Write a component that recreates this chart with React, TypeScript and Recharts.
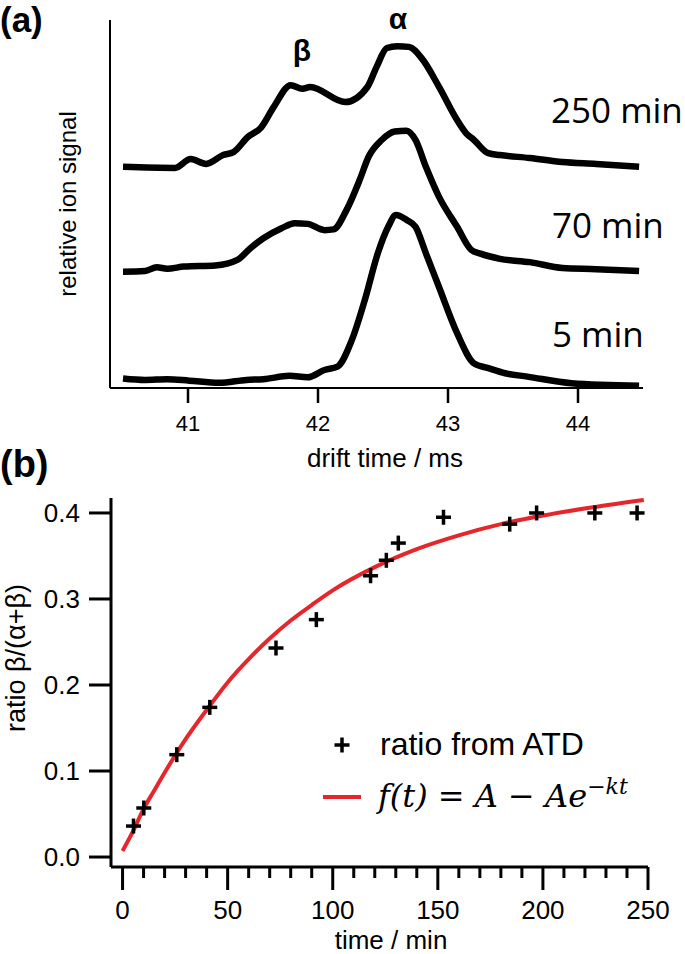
import { LineChart, ComposedChart, Line, Scatter, XAxis, YAxis } from "recharts"

// (a) arrival time distributions, stacked as drawn (relative ion signal, 0-100)
const drift250 = [40.5, 40.9, 41.02, 41.14, 41.27, 41.35, 41.46, 41.56, 41.66, 41.79, 41.88, 41.94, 42.21, 42.38, 42.45, 42.53, 42.61, 42.7, 42.8, 42.93, 43.07, 43.14, 43.2, 43.31, 43.4, 43.63, 43.88, 44.14, 44.47]
const signal250 = [60.1, 59.8, 62.2, 60.9, 63.3, 64.1, 68.2, 70.7, 76.4, 82.3, 81.3, 81.8, 77.7, 81.8, 87.2, 92.4, 92.9, 92.7, 89.5, 81.9, 72.8, 69.2, 67.4, 63.8, 63.3, 62.5, 61.4, 60.9, 60.1]

const drift70 = [40.5, 40.67, 40.76, 40.84, 40.97, 41.21, 41.38, 41.48, 41.58, 41.72, 41.82, 41.92, 42.05, 42.12, 42.22, 42.32, 42.39, 42.49, 42.59, 42.68, 42.75, 42.83, 42.93, 43.07, 43.18, 43.25, 43.4, 43.63, 43.88, 44.14, 44.47]
const signal70 = [31.6, 31.8, 32.8, 32.4, 33.0, 33.3, 34.8, 38.0, 40.7, 43.4, 44.8, 44.6, 42.9, 43.1, 48.4, 56.5, 62.9, 67.4, 69.7, 69.9, 67.4, 60.1, 52.0, 43.8, 37.5, 36.5, 35.1, 34.2, 32.6, 32.3, 31.8]

const drift5 = [40.5, 40.67, 40.84, 41.01, 41.24, 41.45, 41.58, 41.78, 41.92, 42.05, 42.15, 42.26, 42.36, 42.46, 42.54, 42.6, 42.68, 42.75, 42.83, 42.93, 43.07, 43.2, 43.31, 43.44, 43.61, 43.95, 44.47]
const signal5 = [2.6, 2.2, 2.4, 2.0, 1.4, 2.2, 2.4, 3.3, 2.9, 4.9, 5.8, 13.0, 23.9, 36.6, 43.8, 47.0, 45.7, 43.8, 36.6, 27.5, 14.9, 6.7, 5.4, 4.0, 3.1, 1.3, 0.6]

const driftTicks = [41, 42, 43, 44]

// (b) ratio beta/(alpha+beta) vs time
const times = [5.2, 10.1, 25.8, 41.5, 73, 92.2, 118, 125.5, 131.2, 152.7, 184.2, 197, 224.7, 244.8]
const ratios = [0.036, 0.057, 0.119, 0.174, 0.243, 0.276, 0.327, 0.345, 0.365, 0.395, 0.387, 0.4, 0.4, 0.4]

// fitted curve
const fitTimes = [0, 5, 10, 15, 20, 25, 30, 40, 50, 60, 70, 80, 90, 100, 120, 140, 160, 180, 200, 225, 248]
const fitValues = [0.007, 0.03, 0.056, 0.077, 0.098, 0.118, 0.137, 0.171, 0.203, 0.23, 0.254, 0.275, 0.293, 0.31, 0.337, 0.358, 0.374, 0.387, 0.397, 0.407, 0.415]

const timeTicks = [0, 10, 20, 30, 40, 50, 60, 70, 80, 90, 100, 110, 120, 130, 140, 150, 160, 170, 180, 190, 200, 210, 220, 230, 240, 250]
const ratioTicks = [0, 0.1, 0.2, 0.3, 0.4]

const zip = (xs: number[], ys: number[]) => xs.map((t, i) => ({ t, v: ys[i] }))

const traces = [
  { name: "250 min", data: zip(drift250, signal250) },
  { name: "70 min", data: zip(drift70, signal70) },
  { name: "5 min", data: zip(drift5, signal5) },
]

const sans = "'Liberation Sans', Arial, sans-serif"
const RED = "#e5262c"

function TimeTick(props: any) {
  const { x, y, payload } = props
  const major = payload.value % 50 === 0
  return (
    <g>
      <line x1={x} x2={x} y1={y} y2={y + (major ? 23 : 11)} stroke="#000" strokeWidth={3} />
      {major && (
        <text x={x} y={y + 52} textAnchor="middle" fontSize={26} fill="#000" fontFamily={sans}>
          {payload.value}
        </text>
      )}
    </g>
  )
}

function PlusMark(props: any) {
  const { cx, cy } = props
  if (cx == null || cy == null) return null
  const h = 7.5
  return (
    <g stroke="#000" strokeWidth={3.5}>
      <line x1={cx - h} x2={cx + h} y1={cy} y2={cy} />
      <line x1={cx} x2={cx} y1={cy - h} y2={cy + h} />
    </g>
  )
}

export default function App() {
  return (
    <div style={{ position: "absolute", left: 0, top: 0, width: 685, height: 954, background: "#fff", fontFamily: sans }}>
      <div style={{ position: "absolute", left: 0, top: 0 }}>
        <LineChart width={685} height={480} margin={{ top: 20, right: 42, bottom: 20, left: 0 }}>
          <XAxis
            type="number"
            dataKey="t"
            domain={[40.4, 44.5]}
            ticks={driftTicks}
            allowDataOverflow
            height={72}
            tickSize={15}
            tickMargin={12}
            axisLine={{ stroke: "#000", strokeWidth: 2 }}
            tickLine={{ stroke: "#000", strokeWidth: 2.5 }}
            tick={{ fill: "#000", fontSize: 22 }}
          />
          <YAxis type="number" domain={[0, 100]} width={110} tick={false} tickLine={false} axisLine={{ stroke: "#000", strokeWidth: 2 }} />
          {traces.map((tr) => (
            <Line
              key={tr.name}
              data={tr.data}
              dataKey="v"
              name={tr.name}
              type="monotone"
              stroke="#000"
              strokeWidth={6.5}
              dot={false}
              isAnimationActive={false}
            />
          ))}
          <text x={0} y={32} fontSize={35} fontWeight="bold" fill="#000" fontFamily={sans}>(a)</text>
          <text x={302} y={61} fontSize={30} fontWeight="bold" textAnchor="middle" fill="#000" fontFamily={sans}>β</text>
          <text x={398} y={29} fontSize={30} fontWeight="bold" textAnchor="middle" fill="#000" fontFamily={sans}>α</text>
          <text x={551} y={123} fontSize={35} fill="#000" fontFamily="'Open Sans'">250 min</text>
          <text x={552} y={238} fontSize={35} fill="#000" fontFamily="'Open Sans'">70 min</text>
          <text x={552} y={347} fontSize={35} fill="#000" fontFamily="'Open Sans'">5 min</text>
          <text x={76} y={204} fontSize={24} textAnchor="middle" fill="#000" fontFamily={sans} transform="rotate(-90 76 204)">
            relative ion signal
          </text>
          <text x={385} y={467} fontSize={26} textAnchor="middle" fill="#000" fontFamily={sans}>drift time / ms</text>
        </LineChart>
      </div>

      <div style={{ position: "absolute", left: 0, top: 440 }}>
        <ComposedChart width={685} height={514} margin={{ top: 58, right: 37, bottom: 7, left: 0 }}>
          <XAxis
            type="number"
            dataKey="t"
            domain={[-5.5, 250]}
            ticks={timeTicks}
            interval={0}
            allowDataOverflow
            height={80}
            tickSize={0}
            tickMargin={0}
            tickLine={false}
            tick={<TimeTick />}
            axisLine={{ stroke: "#000", strokeWidth: 3 }}
          />
          <YAxis
            type="number"
            dataKey="v"
            domain={[-0.0116, 0.4174]}
            ticks={ratioTicks}
            allowDataOverflow
            tickFormatter={(v: number) => v.toFixed(1)}
            width={111}
            tickSize={22}
            tickMargin={9}
            axisLine={{ stroke: "#000", strokeWidth: 3 }}
            tickLine={{ stroke: "#000", strokeWidth: 3 }}
            tick={{ fill: "#000", fontSize: 26 }}
          />
          <Line data={zip(fitTimes, fitValues)} dataKey="v" type="monotone" stroke={RED} strokeWidth={4} dot={false} isAnimationActive={false} />
          <Scatter data={zip(times, ratios)} dataKey="v" shape={<PlusMark />} isAnimationActive={false} />
          <text x={0} y={37} fontSize={38} fontWeight="bold" fill="#000" fontFamily={sans}>(b)</text>
          <text x={25} y={218} fontSize={27} textAnchor="middle" fill="#000" fontFamily={sans} transform="rotate(-90 25 218)">
            ratio β/(α+β)
          </text>
          <text x={391} y={509} fontSize={26} textAnchor="middle" fill="#000" fontFamily={sans}>time / min</text>
          <PlusMark cx={342} cy={305} />
          <text x={380} y={315} fontSize={32} fill="#000" fontFamily={sans}>ratio from ATD</text>
          <line x1={323} x2={361} y1={357} y2={357} stroke={RED} strokeWidth={4} />
          <text x={378} y={367} fontSize={32} fill="#000" fontFamily="'DejaVu Serif', 'Liberation Serif', serif" fontStyle="italic">
            f(t) = A − Ae<tspan dy={-13} fontSize={22}>−kt</tspan>
          </text>
        </ComposedChart>
      </div>
    </div>
  )
}
